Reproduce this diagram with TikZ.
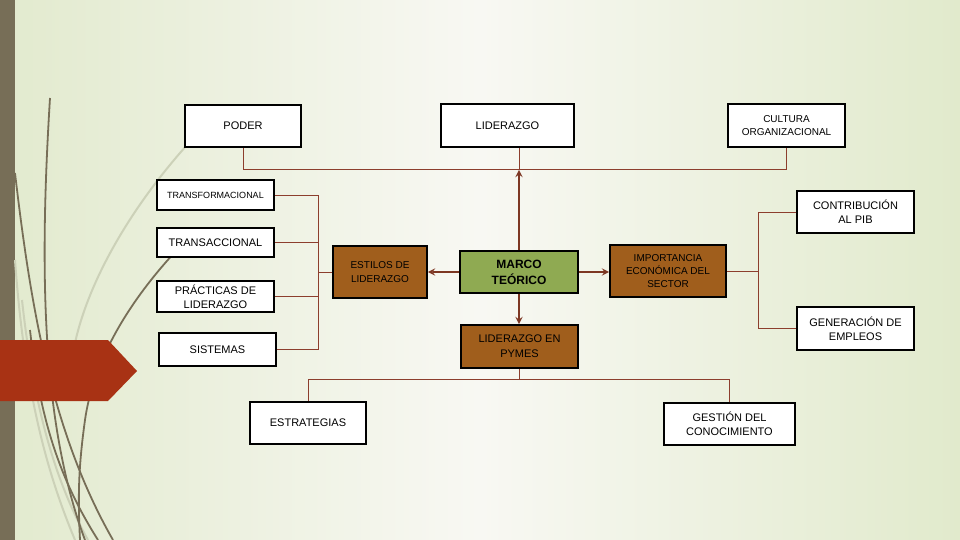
\documentclass[tikz,border=0pt]{standalone}
\usepackage{fontspec}
\setmainfont{Liberation Sans}
\definecolor{fondoA}{RGB}{226,234,206}
\definecolor{fondoB}{RGB}{248,248,243}
\definecolor{fondoC}{RGB}{225,234,204}
\definecolor{barra}{RGB}{119,110,87}
\definecolor{tenue}{RGB}{204,209,184}
\definecolor{rojo}{RGB}{168,50,20}
\definecolor{cafe}{RGB}{160,94,28}
\definecolor{verde}{RGB}{143,170,82}
\definecolor{linea}{RGB}{140,62,45}
\definecolor{flecha}{RGB}{125,55,35}

\begin{document}
\begin{tikzpicture}[x=1pt,y=-1pt,
  box/.style={draw,line width=1.6pt,fill=white,inner sep=0pt,align=center,font=\fontsize{11}{14}\selectfont},
  cafebox/.style={box,fill=cafe},
  conn/.style={draw=linea,line width=.9pt},
  heavy/.style={draw=flecha,line width=2.2pt,-stealth},
  grass/.style={draw=barra,line width=1.8pt},
  faint/.style={draw=tenue,line width=2pt}]
\useasboundingbox (0,0) rectangle (960,540);
\shade[left color=fondoA,right color=fondoC,middle color=fondoB] (0,0) rectangle (960,540);
\fill[barra] (0,0) rectangle (15,540);
\draw[faint] (187,145) .. controls (120,220) and (80,300) .. (72,360);
\draw[faint] (15,260) .. controls (25,400) and (50,480) .. (75,540);
\draw[faint] (22,300) .. controls (35,420) and (60,490) .. (88,540);
\draw[grass] (50,98) .. controls (40,260) and (40,420) .. (85,540);
\draw[grass] (15,173) .. controls (30,300) and (50,430) .. (113,540);
\draw[grass] (175,252) .. controls (140,290) and (95,350) .. (85,420) .. controls (78,470) and (78,500) .. (80,540);
\draw[grass] (30,330) .. controls (40,420) and (60,480) .. (98,540);
\fill[rojo] (0,340) -- (108,340) -- (137,371) -- (108,401) -- (0,401) -- cycle;
\node[box,minimum width=116,minimum height=42] (poder) at (243,126) {PODER};
\node[box,minimum width=133,minimum height=43] (lider) at (507.5,125.5) {LIDERAZGO};
\node[box,minimum width=117,minimum height=43,font=\fontsize{10}{13}\selectfont] (cultura) at (786.5,125.5) {CULTURA\\ORGANIZACIONAL};
\node[box,minimum width=117,minimum height=30,font=\fontsize{9}{11}\selectfont] (transf) at (215.5,195) {TRANSFORMACIONAL};
\node[box,minimum width=117,minimum height=42] (contrib) at (855.5,212) {CONTRIBUCIÓN\\AL PIB};
\node[box,minimum width=117,minimum height=29] (transac) at (215.5,242.5) {TRANSACCIONAL};
\node[cafebox,minimum width=94,minimum height=52,font=\fontsize{10}{14}\selectfont] (estilos) at (380,272) {ESTILOS DE\\LIDERAZGO};
\node[box,fill=verde,minimum width=118,minimum height=42,font=\bfseries\fontsize{12}{16}\selectfont] (marco) at (519,272) {MARCO\\TEÓRICO};
\node[cafebox,minimum width=116,minimum height=52,font=\fontsize{10}{13}\selectfont] (import) at (668,271) {IMPORTANCIA\\ECONÓMICA DEL\\SECTOR};
\node[box,minimum width=117,minimum height=31] (practicas) at (215.5,296.5) {PRÁCTICAS DE\\LIDERAZGO};
\node[box,minimum width=117,minimum height=43] (generacion) at (855.5,328.5) {GENERACIÓN DE\\EMPLEOS};
\node[cafebox,minimum width=117,minimum height=43,font=\fontsize{11}{15}\selectfont] (pymes) at (519.5,346.5) {LIDERAZGO EN\\PYMES};
\node[box,minimum width=117,minimum height=33] (sistemas) at (217.5,349.5) {SISTEMAS};
\node[box,minimum width=116,minimum height=42] (estrat) at (308,423) {ESTRATEGIAS};
\node[box,minimum width=131,minimum height=42] (gestion) at (729.5,424) {GESTIÓN DEL\\CONOCIMIENTO};
\coordinate (leftbus) at (318,272);
\coordinate (rightbus) at (758,271);
\draw[conn] (poder.south) -- ++(0,22) -| (cultura.south);
\draw[conn] (marco.north |- lider.south) -- ++(0,22) coordinate (topbus);
\draw[heavy] (marco.north) -- (topbus);
\foreach \n in {transf,transac,practicas,sistemas}{\draw[conn] (\n.east) -- (\n.east -| leftbus);}
\draw[conn] (transf.east -| leftbus) -- (sistemas.east -| leftbus);
\draw[conn] (leftbus) -- (estilos.west);
\draw[heavy] (marco.west) -- (estilos.east);
\draw[heavy] (marco.east) -- (marco.east -| import.west);
\draw[heavy] (marco.south) -- (marco.south |- pymes.north);
\draw[conn] (import.east) -- (rightbus);
\draw[conn] (contrib.west) -| (rightbus);
\draw[conn] (generacion.west) -| (rightbus);
\draw[conn] (pymes.south -| marco.south) -- ++(0,11) coordinate (botbus);
\draw[conn] (estrat.north) |- (botbus) -| (gestion.north);
\end{tikzpicture}
\end{document}
